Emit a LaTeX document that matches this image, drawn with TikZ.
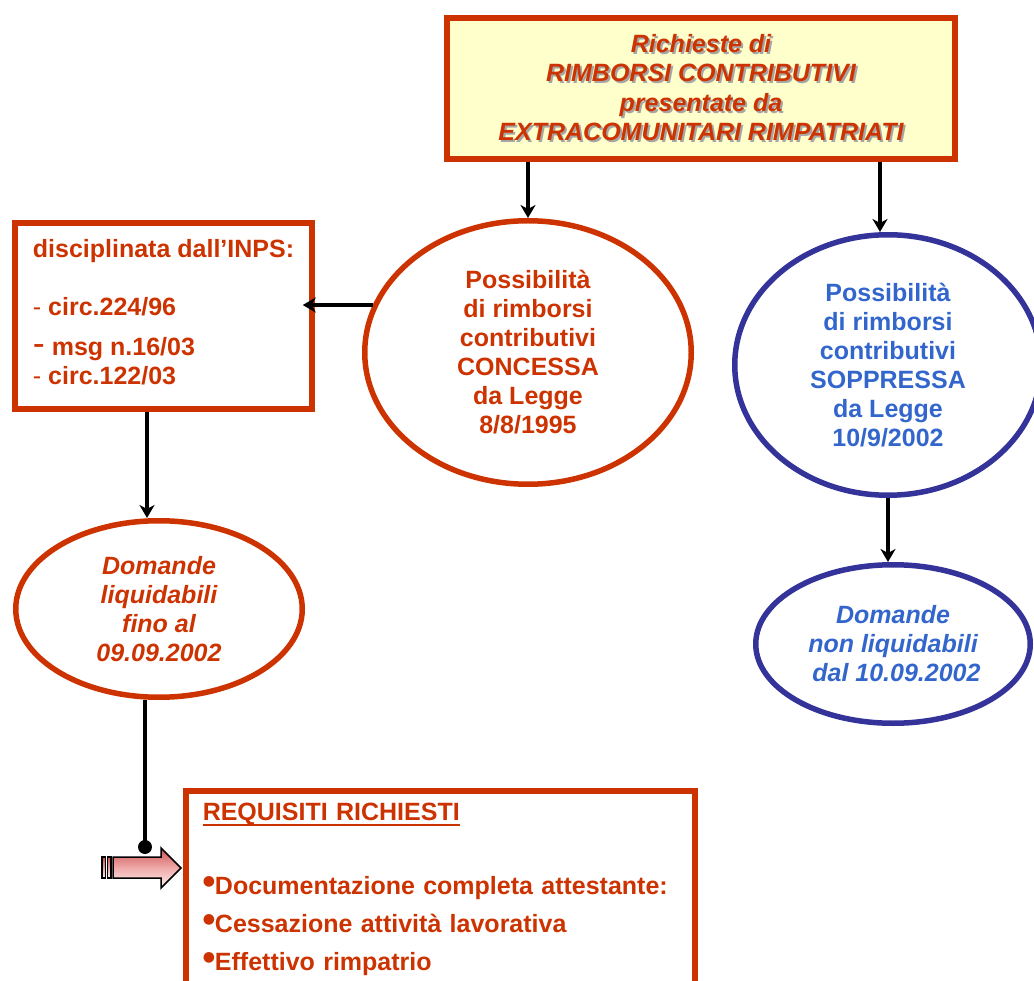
\documentclass[tikz,border=0pt]{standalone}
\usepackage{fontspec}
\setmainfont{Liberation Sans}
\newfontfamily\simboli{DejaVu Sans}
\usepackage{xcolor}
\usetikzlibrary{arrows.meta,positioning,calc,shapes.geometric}
\definecolor{rosso}{HTML}{CC3300}
\definecolor{giallo}{HTML}{FFFFCC}
\definecolor{blu}{HTML}{333399}
\definecolor{blutesto}{HTML}{3366CC}
\newlength{\lungsott}
\newcommand{\ombra}[1]{\makebox[0pt][l]{\hspace{2pt}\raisebox{-2pt}{\textcolor{gray!70}{#1}}}#1}
\newcommand{\sottolinea}[1]{\settowidth{\lungsott}{#1}\makebox[0pt][l]{\rule[-6pt]{\lungsott}{2.5pt}}#1}
\newcommand{\punto}{{\simboli\fontsize{14}{14}\selectfont\raisebox{9pt}{●}}}

\begin{document}
\begin{tikzpicture}[x=1pt,y=-1pt,
                    every node/.style={font=\fontsize{25}{29}\selectfont\bfseries},
                    riquadro/.style={draw=rosso,line width=5.5pt,inner sep=0pt,text=rosso},
                    ovale/.style={ellipse,draw=rosso,line width=5.5pt,inner sep=0pt,align=center,text=rosso},
                    ovaleblu/.style={ellipse,draw=blu,line width=5.5pt,inner sep=0pt,align=center,text=blutesto},
                    freccia/.style={line width=3.5pt,-{Stealth[length=13pt,width=15pt,inset=4pt]}}]
                    \useasboundingbox (0,0) rectangle (1034,981);
                    \clip (0,0) rectangle (1034,981);
                    \node[riquadro,fill=giallo,minimum width=508,minimum height=141,align=center,font=\fontsize{25}{29.3}\selectfont\bfseries\itshape] (cima) at (701,88.5)
                        {\ombra{Richieste di}\\\ombra{RIMBORSI CONTRIBUTIVI}\\\ombra{presentate da}\\\ombra{EXTRACOMUNITARI RIMPATRIATI}};
                    \node[ovale,minimum width=326.5,minimum height=263.5] (conc) at (528,352.5)
                        {Possibilità\\di rimborsi\\contributivi\\CONCESSA\\da Legge\\8/8/1995};
                    \node[ovaleblu,minimum width=306.5,minimum height=260.5] (sopp) at (888,365)
                        {Possibilità\\di rimborsi\\contributivi\\SOPPRESSA\\da Legge\\10/9/2002};
                    \node[riquadro,minimum width=297,minimum height=186,align=left,text depth=8pt] (inps) at (163.5,316)
                        {disciplinata dall’INPS:\\[29pt]{\mdseries -} circ.224/96\\[11pt]{\fontsize{36}{29}\selectfont\mdseries -} msg n.16/03\\{\mdseries -} circ.122/03};
                    \node[ovale,minimum width=286.5,minimum height=176.5,font=\fontsize{25}{29}\selectfont\bfseries\itshape] (liq) at (159,609)
                        {Domande\\liquidabili\\fino al\\09.09.2002};
                    \node[ovaleblu,minimum width=274.5,minimum height=158.5,font=\fontsize{25}{29}\selectfont\bfseries\itshape] (nonliq) at (893,644)
                        {Domande\\non liquidabili\\\ dal 10.09.2002};
                    \node[riquadro,anchor=north west,minimum width=509,text width=475,inner xsep=17pt,inner ysep=12pt,align=left,font=\fontsize{25}{38}\selectfont\bfseries] (req) at (183,788)
                        {\sottolinea{REQUISITI RICHIESTI}\\[36pt]\punto Documentazione completa attestante:\\\punto Cessazione attività lavorativa\\\punto Effettivo rimpatrio};
                    \draw[freccia] ([xshift=-173pt]cima.south) -- (conc.north);
                    \draw[freccia] ([xshift=179pt]cima.south) -- ([xshift=179pt]cima.south |- sopp.north);
                    \draw[freccia] (conc.163.6) -- ($(inps.east |- conc.163.6)+(-12,0)$);
                    \draw[freccia] ([xshift=-16.5pt]inps.south) -- ([xshift=-16.5pt]inps.south |- liq.north);
                    \draw[freccia] (sopp.south) -- (sopp.south |- nonliq.north);
                    \coordinate (aggancio) at (145,847);
                    \draw[line width=3.5pt] ([xshift=-14pt]liq.south) -- (aggancio);
                    \fill (aggancio) circle[radius=7pt];
                    \draw[line width=1.5pt,top color={rgb,255:red,205;green,85;blue,85},bottom color={rgb,255:red,255;green,242;blue,242},middle color={rgb,255:red,240;green,170;blue,170}]
                        (113,857) -- (161,857) -- (161,848) -- (181,868) -- (161,888) -- (161,878) -- (113,878) -- cycle;
                    \foreach \xa/\xb in {102/105.5,107.5/111}{
                        \draw[line width=1.5pt,top color={rgb,255:red,205;green,85;blue,85},bottom color={rgb,255:red,255;green,242;blue,242}] (\xa,857) rectangle (\xb,878);
                    }
                \end{tikzpicture}
\end{document}
